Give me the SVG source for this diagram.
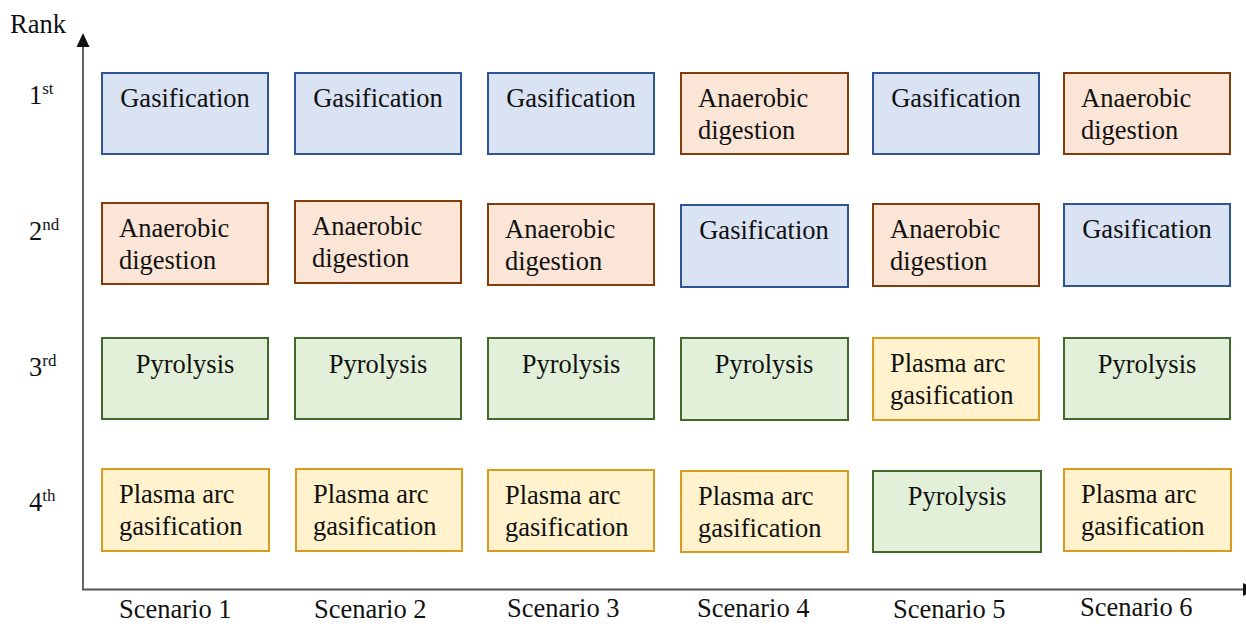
<svg xmlns="http://www.w3.org/2000/svg" width="1246" height="624" viewBox="0 0 1246 624">
<style>
text{font-family:'Liberation Serif',Tinos,'Times New Roman',Times,'Nimbus Roman','TeX Gyre Termes','Noto Serif','DejaVu Serif',serif;font-size:26.5px;fill:#111;}
.sup{font-size:17px;}
.g{fill:#dae3f3;stroke:#2f5597;stroke-width:2;}
.a{fill:#fbe5d6;stroke:#843c0c;stroke-width:2;}
.p{fill:#e2f0d9;stroke:#43682b;stroke-width:2;}
.m{fill:#fff2cc;stroke:#d99b1e;stroke-width:2;}
.c{text-anchor:middle;}
.axis{stroke:#555;stroke-width:1.8;fill:none;}
</style>
<rect width="1246" height="624" fill="#fff"/>
<g id="axes">
<line class="axis" x1="83" y1="45" x2="83" y2="589.5"/>
<line class="axis" x1="82.1" y1="589.5" x2="1243" y2="589.5"/>
<polygon points="83,33 76.5,47 89.5,47" fill="#111"/>
<polygon points="1256,589.5 1243,583 1243,596" fill="#111"/>
</g>
<g id="labels">
<text x="10" y="33">Rank</text>
<text x="29" y="104">1<tspan class="sup" dy="-10">st</tspan></text>
<text x="29" y="240">2<tspan class="sup" dy="-10">nd</tspan></text>
<text x="29" y="376">3<tspan class="sup" dy="-10">rd</tspan></text>
<text x="29" y="511">4<tspan class="sup" dy="-10">th</tspan></text>
<text x="119" y="618">Scenario 1</text>
<text x="314" y="618">Scenario 2</text>
<text x="507" y="617">Scenario 3</text>
<text x="697" y="617">Scenario 4</text>
<text x="893" y="618">Scenario 5</text>
<text x="1080" y="616">Scenario 6</text>
</g>
<g id="s1r1"><rect class="g" x="102" y="73" width="166" height="81"/><text class="c" x="185" y="107">Gasification</text></g>
<g id="s2r1"><rect class="g" x="295" y="73" width="166" height="81"/><text class="c" x="378" y="107">Gasification</text></g>
<g id="s3r1"><rect class="g" x="488" y="73" width="166" height="81"/><text class="c" x="571" y="107">Gasification</text></g>
<g id="s4r1"><rect class="a" x="681" y="73" width="167" height="81"/><text x="698" y="107">Anaerobic</text><text x="698" y="139">digestion</text></g>
<g id="s5r1"><rect class="g" x="873" y="73" width="166" height="81"/><text class="c" x="956" y="107">Gasification</text></g>
<g id="s6r1"><rect class="a" x="1064" y="73" width="166" height="81"/><text x="1081" y="107">Anaerobic</text><text x="1081" y="139">digestion</text></g>

<g id="s1r2"><rect class="a" x="102" y="203" width="166" height="81"/><text x="119" y="237">Anaerobic</text><text x="119" y="269">digestion</text></g>
<g id="s2r2"><rect class="a" x="295" y="201" width="166" height="82"/><text x="312" y="235">Anaerobic</text><text x="312" y="267">digestion</text></g>
<g id="s3r2"><rect class="a" x="488" y="204" width="166" height="81"/><text x="505" y="238">Anaerobic</text><text x="505" y="270">digestion</text></g>
<g id="s4r2"><rect class="g" x="681" y="205" width="167" height="82"/><text class="c" x="764" y="239">Gasification</text></g>
<g id="s5r2"><rect class="a" x="873" y="204" width="166" height="82"/><text x="890" y="238">Anaerobic</text><text x="890" y="270">digestion</text></g>
<g id="s6r2"><rect class="g" x="1064" y="204" width="166" height="82"/><text class="c" x="1147" y="238">Gasification</text></g>

<g id="s1r3"><rect class="p" x="102" y="338" width="166" height="81"/><text class="c" x="185" y="373">Pyrolysis</text></g>
<g id="s2r3"><rect class="p" x="295" y="338" width="166" height="81"/><text class="c" x="378" y="373">Pyrolysis</text></g>
<g id="s3r3"><rect class="p" x="488" y="338" width="166" height="81"/><text class="c" x="571" y="373">Pyrolysis</text></g>
<g id="s4r3"><rect class="p" x="681" y="338" width="167" height="82"/><text class="c" x="764" y="373">Pyrolysis</text></g>
<g id="s5r3"><rect class="m" x="873" y="338" width="166" height="82"/><text x="890" y="372">Plasma arc</text><text x="890" y="404">gasification</text></g>
<g id="s6r3"><rect class="p" x="1064" y="338" width="166" height="81"/><text class="c" x="1147" y="373">Pyrolysis</text></g>

<g id="s1r4"><rect class="m" x="102" y="469" width="167" height="82"/><text x="119" y="503">Plasma arc</text><text x="119" y="535">gasification</text></g>
<g id="s2r4"><rect class="m" x="296" y="469" width="166" height="82"/><text x="313" y="503">Plasma arc</text><text x="313" y="535">gasification</text></g>
<g id="s3r4"><rect class="m" x="488" y="470" width="166" height="81"/><text x="505" y="504">Plasma arc</text><text x="505" y="536">gasification</text></g>
<g id="s4r4"><rect class="m" x="681" y="471" width="167" height="81"/><text x="698" y="505">Plasma arc</text><text x="698" y="537">gasification</text></g>
<g id="s5r4"><rect class="p" x="873" y="471" width="168" height="81"/><text class="c" x="957" y="505">Pyrolysis</text></g>
<g id="s6r4"><rect class="m" x="1064" y="469" width="167" height="82"/><text x="1081" y="503">Plasma arc</text><text x="1081" y="535">gasification</text></g>
</svg>
